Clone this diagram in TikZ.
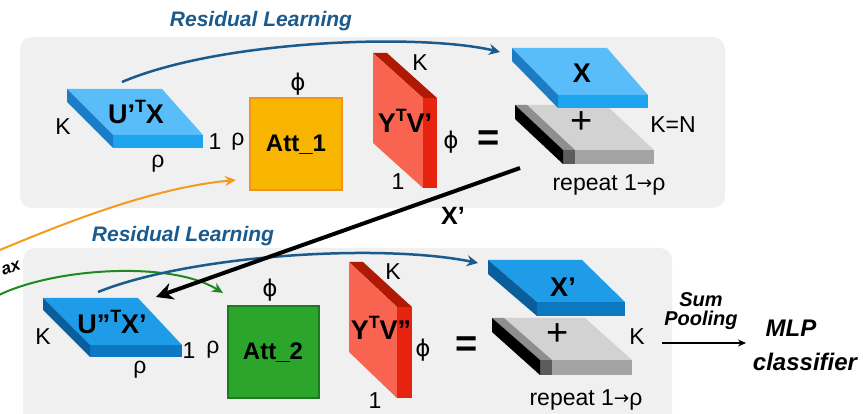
\documentclass[tikz,border=0pt]{standalone}
\usepackage{fontspec}
\setmainfont{Liberation Sans}
\newfontfamily\dejavu{DejaVu Sans}
\usetikzlibrary{arrows.meta}
\definecolor{panel}{HTML}{F0F0F0}
\definecolor{resblue}{HTML}{1B5A8C}
\definecolor{btopA}{HTML}{58BDF8}
\definecolor{bfrontA}{HTML}{1CA4EE}
\definecolor{bleftA}{HTML}{1A7DC6}
\definecolor{btopB}{HTML}{1E9CE8}
\definecolor{bfrontB}{HTML}{0C78C2}
\definecolor{bleftB}{HTML}{0A5E9C}
\definecolor{gtop}{HTML}{D2D2D2}
\definecolor{gstrip}{HTML}{8E8E8E}
\definecolor{gfdark}{HTML}{5C5C5C}
\definecolor{gflight}{HTML}{A4A4A4}
\definecolor{rtop}{HTML}{B01A05}
\definecolor{rfront}{HTML}{F8644F}
\definecolor{rside}{HTML}{E6230F}
\definecolor{attor}{HTML}{F7B500}
\definecolor{attorb}{HTML}{F2941C}
\definecolor{attgr}{HTML}{2CA52C}
\definecolor{attgrb}{HTML}{1E7A1E}
\definecolor{orline}{HTML}{F29B1F}
\definecolor{grline}{HTML}{1E8A1E}
\newcommand\supT{\raisebox{0.40em}{\fontsize{0.66em}{0.66em}\selectfont T}}
\newcommand\myphi{{\dejavu ϕ}}
\newcommand\myarr{{\dejavu\fontsize{0.8em}{0.8em}\selectfont\raisebox{0.05em}{→}}}
\tikzset{
  lbl/.style={font=\fontsize{23}{24}\selectfont, inner sep=0},
  bigb/.style={font=\fontsize{27}{28}\selectfont\bfseries, inner sep=0},
  slabtxt/.style={font=\fontsize{27}{28}\selectfont\bfseries, inner sep=0},
  attlbl/.style={font=\fontsize{24}{25}\selectfont\bfseries, inner sep=0},
  reslbl/.style={font=\fontsize{21}{22}\selectfont\bfseries\itshape, text=resblue, inner sep=0},
  resarrow/.style={draw=resblue, line width=2.5pt, -{Stealth[length=11pt,width=11pt]}},
  panelbox/.style={fill=panel, draw=none, rounded corners=12pt},
  plussign/.style={font=\fontsize{38}{38}\selectfont, inner sep=0},
  eqsign/.style={font=\fontsize{38}{38}\selectfont\bfseries, inner sep=0},
}
\begin{document}
\begin{tikzpicture}[x=1pt,y=-1pt]
\useasboundingbox (0,0) rectangle (863,414);
% panels
\path[panelbox] (20,37) rectangle (725,208);
\path[panelbox] (23,248) rectangle (672,430);

% ---------- top row ----------
\fill[btopA] (67,89) -- (162,89) -- (203,135) -- (113,135) -- cycle;
\fill[bfrontA] (113,135) rectangle (203,148);
\fill[bleftA] (67,89) -- (113,135) -- (113,148) -- (67,102) -- cycle;
\node[bigb] (utx) at (136,112) {U’\supT X};
\node[lbl] (k1) at (63,127) {K};
\node[lbl] (one1) at (215,142) {1};
\node[lbl] (rho1) at (158,164) {ρ};

\node[draw=attorb, fill=attor, line width=2pt, minimum width=92pt, minimum height=92pt, inner sep=0] (att1) at (296,144) {};
\node[attlbl] (att1l) at (296,145) {Att\_1};
\node[lbl] (rho1b) at (238,142) {ρ};
\node[lbl] (phi1) at (298,84) {\myphi};

\fill[rtop] (373,53) -- (387,53) -- (437,98) -- (423,98) -- cycle;
\fill[rfront] (373,53) -- (423,98) -- (423,188) -- (373,143) -- cycle;
\fill[rside] (423,98) rectangle (437,188);
\node[slabtxt] (ytv1) at (405,121) {Y\supT V’};
\node[lbl] (k2) at (420,63) {K};
\node[lbl] (phi2) at (451,142) {\myphi};
\node[lbl] (one2) at (398,182) {1};

\node[eqsign] (eq1) at (489,141) {=};

\fill[gtop] (515,105) -- (606,105) -- (654,150) -- (563,150) -- cycle;
\fill[gstrip] (515,105) -- (527,105) -- (575,150) -- (563,150) -- cycle;
\fill[gfdark] (563,150) rectangle (575,164);
\fill[gflight] (575,150) rectangle (654,164);
\fill[black] (515,105) -- (563,150) -- (563,164) -- (515,119) -- cycle;
\fill[btopA] (512,48) -- (607,48) -- (648,95) -- (558,95) -- cycle;
\fill[bfrontA] (558,95) rectangle (648,108);
\fill[bleftA] (512,48) -- (558,95) -- (558,108) -- (512,61) -- cycle;
\node[slabtxt] (x1) at (582,73) {X};
\node[plussign] (plus1) at (582,123) {+};
\node[lbl] (kn) at (673,125) {K=N};
\node[lbl] (rep1) at (609,185) {repeat 1\myarr ρ};

% ---------- bottom row ----------
\fill[btopB] (43,298) -- (138,298) -- (182,345) -- (90,345) -- cycle;
\fill[bfrontB] (90,345) rectangle (182,357);
\fill[bleftB] (43,298) -- (90,345) -- (90,357) -- (43,310) -- cycle;
\node[bigb] (utx2) at (112,322) {U”\supT X’};
\node[lbl] (k3) at (43,337) {K};
\node[lbl] (one3) at (189,351) {1};
\node[lbl] (rho3) at (140,370) {ρ};

\node[draw=attgrb, fill=attgr, line width=2pt, minimum width=91pt, minimum height=91pt, inner sep=0] (att2) at (273,352) {};
\node[attlbl] (att2l) at (273,353) {Att\_2};
\node[lbl] (rho3b) at (213,350) {ρ};
\node[lbl] (phi3) at (270,290) {\myphi};

\fill[rtop] (349,262) -- (363,262) -- (412,307) -- (397,307) -- cycle;
\fill[rfront] (349,262) -- (397,307) -- (397,398) -- (349,352) -- cycle;
\fill[rside] (397,307) rectangle (412,398);
\node[slabtxt] (ytv2) at (381,328) {Y\supT V”};
\node[lbl] (k4) at (393,272) {K};
\node[lbl] (phi4) at (423,350) {\myphi};
\node[lbl] (one4) at (375,401) {1};

\node[eqsign] (eq2) at (467,347) {=};

\fill[gtop] (492,318) -- (585,318) -- (632,360) -- (540,360) -- cycle;
\fill[gstrip] (492,318) -- (504,318) -- (552,360) -- (540,360) -- cycle;
\fill[gfdark] (540,360) rectangle (552,375);
\fill[gflight] (552,360) rectangle (632,375);
\fill[black] (492,318) -- (540,360) -- (540,375) -- (492,332) -- cycle;
\fill[btopB] (488,260) -- (582,260) -- (625,302) -- (537,302) -- cycle;
\fill[bfrontB] (537,302) rectangle (625,316);
\fill[bleftB] (488,260) -- (537,302) -- (537,316) -- (488,274) -- cycle;
\node[slabtxt] (x2) at (563,287) {X’};
\node[plussign] (plus2) at (558,335) {+};
\node[lbl] (k5) at (637,337) {K};
\node[lbl] (rep2) at (586,400) {repeat 1\myarr ρ};

% output
\node[font=\fontsize{20}{20}\selectfont\bfseries\itshape, inner sep=0] (sumw) at (701,300) {Sum};
\node[font=\fontsize{20}{20}\selectfont\bfseries\itshape, inner sep=0] (poolw) at (701,320) {Pooling};
\node[font=\fontsize{24}{25}\selectfont\bfseries\itshape, inner sep=0] (mlp) at (791,328) {MLP};
\node[font=\fontsize{24}{25}\selectfont\bfseries\itshape, inner sep=0] (clf) at (805,362) {classifier};

% labels
\node[reslbl] (res1) at (261,21) {Residual Learning};
\node[reslbl] (res2) at (183,236) {Residual Learning};
\node[font=\fontsize{25}{26}\selectfont\bfseries, inner sep=0] (xp) at (453,216) {X’};
\node[font=\fontsize{17}{18}\selectfont\bfseries\itshape, inner sep=0, rotate=20] (ax) at (11,268) {ax};

% connector endpoints
\coordinate (r1s) at (122,82);
\coordinate (r1e) at (500,52);
\coordinate (r2s) at (98,292);
\coordinate (r2e) at (478,263);
\coordinate (ors) at (-5,252);
\coordinate (ore) at (236,180);
\coordinate (grs) at (-5,297);
\coordinate (gre) at (223,293);
\coordinate (xs) at (520,168);
\coordinate (xe) at (156,297);
\coordinate (sps) at (662,343);
\coordinate (spe) at (746,343);

\draw[orline, line width=2pt, -{Stealth[length=11pt,width=10pt]}] (ors) .. controls (60,225) and (150,188) .. (ore);
\draw[grline, line width=2pt, -{Stealth[length=11pt,width=10pt]}] (grs) .. controls (50,268) and (170,260) .. (gre);
\draw[resarrow] (r1s) .. controls (220,40) and (420,33) .. (r1e);
\draw[resarrow] (r2s) .. controls (190,255) and (380,243) .. (r2e);
\draw[black, line width=4pt, -{Stealth[length=17pt,width=17pt]}] (xs) -- (xe);
\draw[black, line width=1.2pt, -{Stealth[length=8pt,width=7pt]}] (sps) -- (spe);
\end{tikzpicture}
\end{document}
